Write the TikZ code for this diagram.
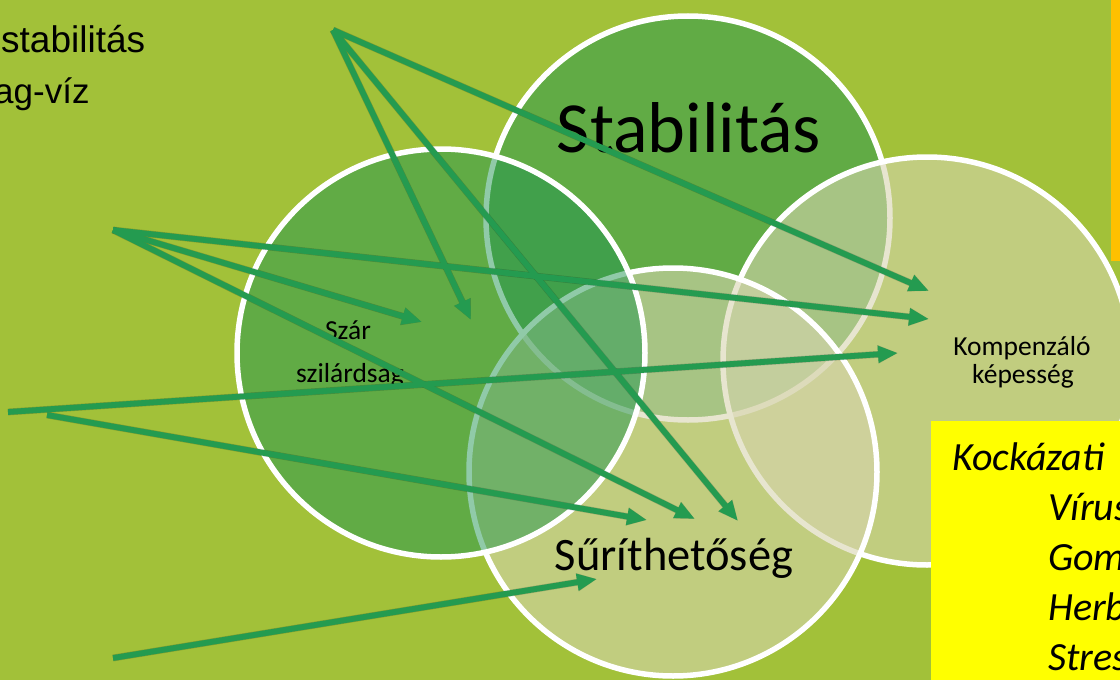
\documentclass[tikz,border=0pt]{standalone}
\usepackage{fontspec}
\setmainfont{Carlito}
\newfontfamily\arialfont{Liberation Sans}
\usetikzlibrary{arrows.meta}
\definecolor{bg}{RGB}{162,193,57}
\definecolor{cgreen}{RGB}{34,151,82}
\definecolor{clight}{RGB}{215,213,175}
\definecolor{arr}{RGB}{36,155,80}
\definecolor{ybox}{RGB}{255,255,0}
\definecolor{obox}{RGB}{255,192,0}
\begin{document}
\begin{tikzpicture}[x=1pt,y=-1pt,
  ring/.style={draw=white, line width=5.5pt},
  greenring/.style={ring, fill=cgreen, fill opacity=0.5},
  lightring/.style={ring, fill=clight, fill opacity=0.6},
  arrowline/.style={draw=arr, line width=5.8pt, -{Triangle[length=20pt,width=16pt]}},
  arrshadow/.style={draw=black, draw opacity=0.18, fill opacity=0.18, line width=6.8pt, xshift=1.5pt, yshift=-2.5pt, -{Triangle[length=20pt,width=17pt]}},
  lbl/.style={inner sep=0pt, anchor=base, text=black},
  boxtext/.style={inner sep=0pt, anchor=base west, font=\itshape\fontsize{40}{48}\selectfont}
]
\path[use as bounding box, clip] (0,0) rectangle (1120,680);
\fill[bg] (0,0) rectangle (1120,680);

% circles in stacking order
\path[greenring] (688,218) circle[radius=202pt];
\path[lightring] (927,361) circle[radius=204pt];
\path[lightring] (673,472) circle[radius=204pt];
\path[greenring] (441,353) circle[radius=204pt];

% boxes
\fill[obox] (1111,-5) rectangle (1130,261);
\fill[ybox] (931,421) rectangle (1130,690);

% texts
\node[lbl, anchor=base west, font=\arialfont\fontsize{37}{44}\selectfont] (t1) at (1,52) {stabilitás};
\node[lbl, anchor=base west, font=\arialfont\fontsize{35}{42}\selectfont] (t2) at (-6,103) {ag-víz};
\node[lbl, font=\fontsize{72}{86}\selectfont] (stab) at (689,152) {Stabilitás};
\node[lbl, font=\fontsize{46.5}{55}\selectfont] (sur) at (674,570) {Sűríthetőség};
\node[lbl, font=\fontsize{27.5}{33}\selectfont] (szar1) at (348,339) {Szár};
\node[lbl, font=\fontsize{27.5}{33}\selectfont] (szar2) at (350,382) {szilárdság};
\node[lbl, font=\fontsize{27.5}{33}\selectfont] (komp1) at (1022,355) {Kompenzáló};
\node[lbl, font=\fontsize{27.5}{33}\selectfont] (komp2) at (1023,383) {képesség};
\node[boxtext] (k0) at (952,470) {Kockázati};
\node[boxtext] (k1) at (1048,520) {Vírus};
\node[boxtext] (k2) at (1048,570) {Gom};
\node[boxtext] (k3) at (1048,620) {Herb};
\node[boxtext] (k4) at (1048,670) {Stres};

% arrow end points
\coordinate (a1) at (333,30);
\coordinate (t11) at (471,320);
\coordinate (t12) at (738,521);
\coordinate (t13) at (929,291);
\coordinate (a2) at (113,230);
\coordinate (t21) at (422,322);
\coordinate (t22) at (929,319);
\coordinate (t23) at (695,519);
\coordinate (a3) at (8,412);
\coordinate (t31) at (898,353);
\coordinate (a4) at (47,415);
\coordinate (t41) at (647,520);
\coordinate (a5) at (113,658);
\coordinate (t51) at (597,579);

% shadows
\foreach \s/\e in {a1/t11,a1/t12,a1/t13,a2/t21,a2/t22,a2/t23,a3/t31,a4/t41,a5/t51}{
  \draw[arrshadow] (\s) -- (\e);
}
% arrows
\draw[arrowline] (a1) -- (t11);
\draw[arrowline] (a1) -- (t12);
\draw[arrowline] (a1) -- (t13);
\draw[arrowline] (a2) -- (t21);
\draw[arrowline] (a2) -- (t22);
\draw[arrowline] (a2) -- (t23);
\draw[arrowline] (a3) -- (t31);
\draw[arrowline] (a4) -- (t41);
\draw[arrowline] (a5) -- (t51);
\end{tikzpicture}
\end{document}
